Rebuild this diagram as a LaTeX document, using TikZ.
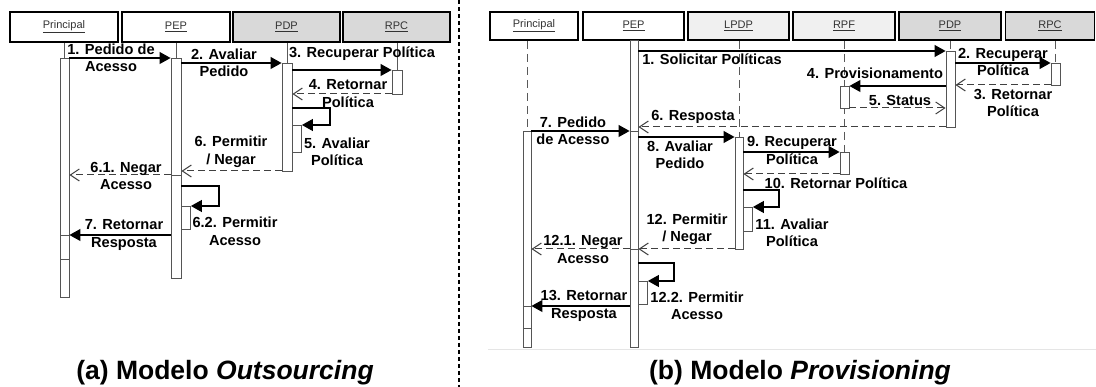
\documentclass[tikz,border=0pt]{standalone}
\usepackage{fontspec}
\setmainfont{Liberation Sans}
\usetikzlibrary{arrows.meta}
\definecolor{headgray}{RGB}{217,217,217}
\definecolor{headlight}{RGB}{240,240,240}
\definecolor{barline}{RGB}{85,85,85}

\begin{document}
\begin{tikzpicture}[x=1pt,y=-1pt]
\tikzstyle{head} = [draw=black,line width=1.8pt,minimum height=30pt,inner sep=0pt,text=black!80,font=\fontsize{11}{13}\selectfont]
\tikzstyle{actbar} = [draw=barline,fill=white,line width=0.9pt,minimum width=9pt,inner sep=0pt,anchor=north]
\tikzstyle{call} = [draw=black,line width=1.1pt,-{Triangle[length=11pt,width=12pt]}]
\tikzstyle{reply} = [draw=black!75,line width=1pt,dash pattern=on 7pt off 4pt,-{Straight Barb[length=9pt,width=12pt]}]
\tikzstyle{life} = [draw=black!65,line width=1pt,dash pattern=on 8pt off 5pt]
\tikzstyle{stub} = [draw=black!65,line width=1pt]
\tikzstyle{lbl} = [align=center,inner sep=0pt,font=\bfseries\fontsize{14.6}{17.5}\selectfont]
\tikzstyle{capt} = [inner sep=0pt,font=\bfseries\fontsize{26.5}{30}\selectfont]
\useasboundingbox (0,0) rectangle (1096,387);

% (a) Outsourcing
\node[head,minimum width=108pt] (hPrin) at (64,27) {\underline{Principal}};
\node[head,minimum width=108pt] (hPep) at (176,27) {\underline{PEP}};
\node[head,minimum width=107pt,fill=headgray] (hPdp) at (286.5,27) {\underline{PDP}};
\node[head,minimum width=107pt,fill=headgray] (hRpc) at (396.5,27) {\underline{RPC}};

\node[actbar,minimum height=177pt] (pPrin1) at (64.5,58) {};
\node[actbar,minimum height=24pt] (pPrin2) at (64.5,235) {};
\node[actbar,minimum height=38pt] (pPrin3) at (64.5,259) {};
\node[actbar,minimum height=117pt,minimum width=10pt] (pPep1) at (176,58) {};
\node[actbar,minimum height=103pt,minimum width=10pt] (pPep2) at (176,175) {};
\node[actbar,minimum height=23pt,anchor=north west] (pPepS) at (181,206) {};
\node[actbar,minimum height=108pt,minimum width=10pt] (pPdp1) at (287,63) {};
\node[actbar,minimum height=27pt,anchor=north west] (pPdpS) at (292,125) {};
\node[actbar,minimum height=24pt,minimum width=10pt] (pRpc1) at (397,70) {};

\draw[stub] (hPrin.south -| pPrin1.north) -- (pPrin1.north);
\draw[stub] (hPep.south -| pPep1.north) -- (pPep1.north);
\draw[stub] (hPdp.south -| pPdp1.north) -- (pPdp1.north);
\draw[stub] (hRpc.south -| pRpc1.north) -- (pRpc1.north);

\draw[call] (pPrin1.east |- 0,58) -- (pPep1.west |- 0,58);
\draw[call] (pPep1.east |- 0,63) -- (pPdp1.west |- 0,63);
\draw[call] (pPdp1.east |- 0,70) -- (pRpc1.west |- 0,70);
\draw[reply] (pRpc1.west |- 0,94) -- (pPdp1.east |- 0,94);
\draw[call] (pPdp1.east |- 0,108) -- (330,108) |- (pPdpS.north east);
\draw[reply] (pPdp1.west |- 0,171) -- (pPep1.east |- 0,171);
\draw[reply] (pPep1.west |- 0,175) -- (pPrin1.east |- 0,175);
\draw[call] (pPep2.east |- 0,186) -- (219,186) |- (pPepS.north east);
\draw[call] (pPep2.west |- 0,235) -- (pPrin1.east |- 0,235);

\node[lbl] (lA1) at (111,58) {1. Pedido de\\Acesso};
\node[lbl] (lA2) at (224,63) {2. Avaliar\\Pedido};
\node[lbl] (lA3) at (362,54) {3. Recuperar Política};
\node[lbl] (lA4) at (348,93.5) {4. Retornar\\Política};
\node[lbl] (lA5) at (337,152) {5. Avaliar\\Política};
\node[lbl] (lA6) at (231,152) {6. Permitir\\/ Negar};
\node[lbl] (lA61) at (126,176) {6.1. Negar\\Acesso};
\node[lbl] (lA62) at (235,231.5) {6.2. Permitir\\Acesso};
\node[lbl] (lA7) at (124,235) {7. Retornar\\Resposta};
\node[capt] (capA) at (225,373) {(a) Modelo \textit{Outsourcing}};

\draw[line width=2pt,dash pattern=on 4pt off 3pt] (458.5,0) -- (458.5,387);

% (b) Provisioning
\node[head,minimum height=28pt,minimum width=88pt] (hRPrin) at (534,26) {\underline{Principal}};
\node[head,minimum height=28pt,minimum width=101pt] (hRPep) at (633.5,26) {\underline{PEP}};
\node[head,minimum height=28pt,minimum width=101pt,fill=headlight] (hRLpdp) at (738.5,26) {\underline{LPDP}};
\node[head,minimum height=28pt,minimum width=102pt,fill=headlight] (hRRpf) at (844,26) {\underline{RPF}};
\node[head,minimum height=28pt,minimum width=102pt,fill=headgray] (hRPdp) at (950,26) {\underline{PDP}};
\node[head,minimum height=28pt,minimum width=89pt,fill=headgray] (hRRpc) at (1050,26) {\underline{RPC}};

\draw[life] (hRPrin.south -| 527,0) -- (527,131);
\draw[life] (hRLpdp.south -| 739,0) -- (739,137);
\draw[life] (hRRpf.south -| 844.5,0) -- (844.5,152);
\draw[life] (hRPdp.south -| 950.5,0) -- (950.5,51);
\draw[life] (hRRpc.south -| 1055.5,0) -- (1055.5,63);

\node[actbar,minimum height=175pt,minimum width=8pt] (rPrin1) at (527,131) {};
\node[actbar,minimum height=22pt,minimum width=8pt] (rPrin2) at (527,306) {};
\node[actbar,minimum height=19pt,minimum width=8pt] (rPrin3) at (527,328) {};
\node[actbar,minimum height=91pt,minimum width=8pt] (rPep1) at (634,40) {};
\node[actbar,minimum height=118pt,minimum width=8pt] (rPep2) at (634,131) {};
\node[actbar,minimum height=98pt,minimum width=8pt] (rPep3) at (634,249) {};
\node[actbar,minimum height=23pt,anchor=north west] (rPepS) at (638,281) {};
\node[actbar,minimum height=112pt,minimum width=8pt] (rLpdp1) at (739,137) {};
\node[actbar,minimum height=24pt,anchor=north west] (rLpdpS) at (743,207) {};
\node[actbar,minimum height=22pt] (rRpf1) at (844.5,86) {};
\node[actbar,minimum height=22pt] (rRpf2) at (844.5,152) {};
\node[actbar,minimum height=76pt] (rPdp1) at (950.5,51) {};
\node[actbar,minimum height=22pt] (rRpc1) at (1055.5,63) {};

\draw[call] (rPep1.east |- 0,51) -- (rPdp1.west |- 0,51);
\draw[call] (rPdp1.east |- 0,63) -- (rRpc1.west |- 0,63);
\draw[reply] (rRpc1.west |- 0,85) -- (rPdp1.east |- 0,85);
\draw[call] (rPdp1.west |- 0,86) -- (rRpf1.east |- 0,86);
\draw[reply] (rRpf1.east |- 0,108) -- (rPdp1.west |- 0,108);
\draw[reply] (rPdp1.west |- 0,127) -- (rPep1.east |- 0,127);
\draw[call] (rPrin1.east |- 0,131) -- (rPep2.west |- 0,131);
\draw[call] (rPep2.east |- 0,137) -- (rLpdp1.west |- 0,137);
\draw[call] (rLpdp1.east |- 0,152) -- (rRpf2.west |- 0,152);
\draw[reply] (rRpf2.west |- 0,174) -- (rLpdp1.east |- 0,174);
\draw[call] (rLpdp1.east |- 0,190) -- (779,190) |- (rLpdpS.north east);
\draw[reply] (rLpdp1.west |- 0,249) -- (rPep2.east |- 0,249);
\draw[reply] (rPep2.west |- 0,249) -- (rPrin1.east |- 0,249);
\draw[call] (rPep3.east |- 0,263) -- (674,263) |- (rPepS.north east);
\draw[call] (rPep3.west |- 0,306) -- (rPrin1.east |- 0,306);

\node[lbl] (lB1) at (712,59) {1. Solicitar Políticas};
\node[lbl] (lB2) at (1003,62) {2. Recuperar\\Política};
\node[lbl] (lB3) at (1013,103) {3. Retornar\\Política};
\node[lbl] (lB4) at (875,73) {4. Provisionamento};
\node[lbl] (lB5) at (900,100) {5. Status};
\node[lbl] (lB6) at (693,117) {6. Resposta};
\node[lbl] (lB7) at (573,131) {7. Pedido\\de Acesso};
\node[lbl] (lB8) at (680,155) {8. Avaliar\\Pedido};
\node[lbl] (lB9) at (792,150.5) {9. Recuperar\\Política};
\node[lbl] (lB10) at (836,183) {10. Retornar Política};
\node[lbl] (lB11) at (792,233) {11. Avaliar\\Política};
\node[lbl] (lB12) at (687,229.5) {12. Permitir\\/ Negar};
\node[lbl] (lB121) at (583,249.5) {12.1. Negar\\Acesso};
\node[lbl] (lB122) at (697,306) {12.2. Permitir\\Acesso};
\node[lbl] (lB13) at (584,306) {13. Retornar\\Resposta};

\draw[black!10] (488,349) -- (1096,349);
\node[capt] (capB) at (800,373) {(b) Modelo \textit{Provisioning}};
\end{tikzpicture}
\end{document}
